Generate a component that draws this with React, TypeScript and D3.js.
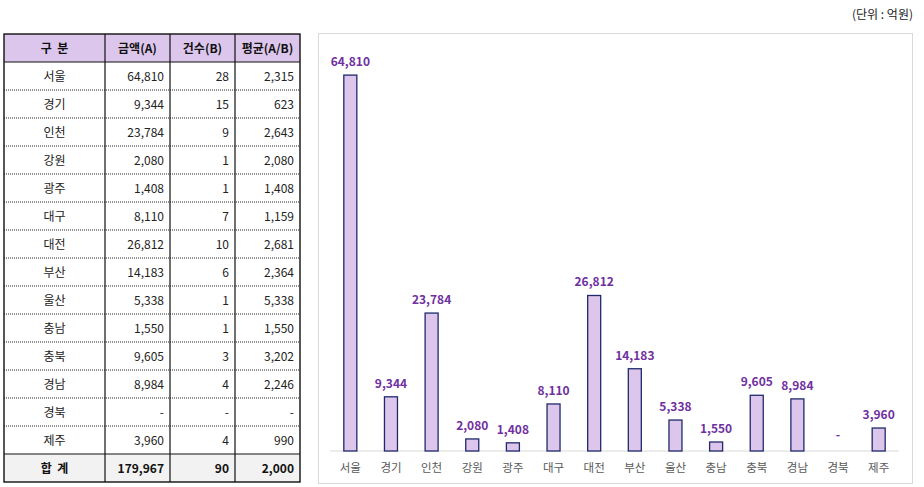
import React from 'react';
import * as d3 from 'd3';

// data
const regions = ['서울', '경기', '인천', '강원', '광주', '대구', '대전', '부산', '울산', '충남', '충북', '경남', '경북', '제주'];
const amounts: (number | null)[] = [64810, 9344, 23784, 2080, 1408, 8110, 26812, 14183, 5338, 1550, 9605, 8984, null, 3960];
const counts: (number | null)[] = [28, 15, 9, 1, 1, 7, 10, 6, 1, 1, 3, 4, null, 4];
const averages: (number | null)[] = [2315, 623, 2643, 2080, 1408, 1159, 2681, 2364, 5338, 1550, 3202, 2246, null, 990];
const headers = ['구  분', '금액(A)', '건수(B)', '평균(A/B)'];
const totals = ['179,967', '90', '2,000'];

const fmt = d3.format(',');
const show = (v: number | null) => (v == null ? '-' : fmt(v));

const FONT = '"Noto Sans CJK KR", "Noto Sans", sans-serif';

const App = () => {
    // table geometry
    const colX = [4, 105, 170, 235, 300];
    const top = 34;
    const rowH = 28;
    const nRows = regions.length + 2;
    const bottom = top + rowH * nRows;

    // chart scales
    const x = d3.scaleBand<string>().domain(regions).range([330, 899]).paddingInner(0.68).paddingOuter(0.34);
    const y = d3.scaleLinear().domain([0, 70000]).range([451, 45]);

    return (
        <svg width={924} height={487} style={{ position: 'absolute', left: 0, top: 0, fontFamily: FONT }}>
            <text x={913} y={19} textAnchor="end" fontSize={12} fill="#222">(단위 : 억원)</text>

            {/* table */}
            <rect x={colX[0]} y={top} width={colX[4] - colX[0]} height={rowH} fill="#dcc6ec" />
            <rect x={colX[0]} y={bottom - rowH} width={colX[4] - colX[0]} height={rowH} fill="#f2f2f2" />
            {regions.map((_, i) => i > 0 && (
                <line key={i} x1={colX[0]} x2={colX[4]} y1={top + rowH * (i + 1)} y2={top + rowH * (i + 1)}
                    stroke="#222" strokeWidth={1} strokeDasharray="1,1" />
            ))}
            <line x1={colX[0]} x2={colX[4]} y1={top + rowH} y2={top + rowH} stroke="#111" strokeWidth={1.2} />
            <line x1={colX[0]} x2={colX[4]} y1={bottom - rowH} y2={bottom - rowH} stroke="#111" strokeWidth={1.2} />
            {colX.slice(1, 4).map((cx) => (
                <line key={cx} x1={cx} x2={cx} y1={top} y2={bottom} stroke="#111" strokeWidth={1.2} />
            ))}
            <rect x={colX[0]} y={top} width={colX[4] - colX[0]} height={bottom - top} fill="none" stroke="#111" strokeWidth={1.4} />

            {headers.map((h, j) => (
                <text key={h} x={(colX[j] + colX[j + 1]) / 2} y={top + rowH / 2 + 4.5} textAnchor="middle"
                    fontSize={12} fontWeight="bold" fill="#111" style={{ whiteSpace: 'pre' }}>{h}</text>
            ))}
            {regions.map((r, i) => {
                const cy = top + rowH * (i + 1) + rowH / 2 + 4.5;
                return (
                    <g key={r} fontSize={12} fill="#222">
                        <text x={(colX[0] + colX[1]) / 2} y={cy} textAnchor="middle">{r}</text>
                        <text x={colX[2] - 6} y={cy} textAnchor="end">{show(amounts[i])}</text>
                        <text x={colX[3] - 6} y={cy} textAnchor="end">{show(counts[i])}</text>
                        <text x={colX[4] - 6} y={cy} textAnchor="end">{show(averages[i])}</text>
                    </g>
                );
            })}
            <g fontSize={12} fontWeight="bold" fill="#111">
                <text x={(colX[0] + colX[1]) / 2} y={bottom - rowH / 2 + 4.5} textAnchor="middle" style={{ whiteSpace: 'pre' }}>합  계</text>
                {totals.map((t, j) => (
                    <text key={j} x={colX[j + 2] - 6} y={bottom - rowH / 2 + 4.5} textAnchor="end">{t}</text>
                ))}
            </g>

            {/* chart */}
            <rect x={318.5} y={33.5} width={594} height={450} fill="#fff" stroke="#d9d9d9" strokeWidth={1} />
            <line x1={330} x2={899} y1={y(0)} y2={y(0)} stroke="#d9d9d9" strokeWidth={1} />
            {regions.map((r, i) => {
                const v = amounts[i];
                const bx = x(r)!;
                const bw = x.bandwidth();
                return (
                    <g key={r}>
                        {v != null && (
                            <rect x={bx} y={y(v)} width={bw} height={y(0) - y(v)} fill="#dcc6ec" stroke="#1f2a6b" strokeWidth={1.3} />
                        )}
                        <text x={bx + bw / 2} y={v != null ? y(v) - 9 : y(0) - 12} textAnchor="middle"
                            fontSize={12} fontWeight="bold" fill="#7030a0">{show(v)}</text>
                        <text x={bx + bw / 2} y={y(0) + 21} textAnchor="middle" fontSize={11.5} fill="#595959">{r}</text>
                    </g>
                );
            })}
        </svg>
    );
};

export default App;
